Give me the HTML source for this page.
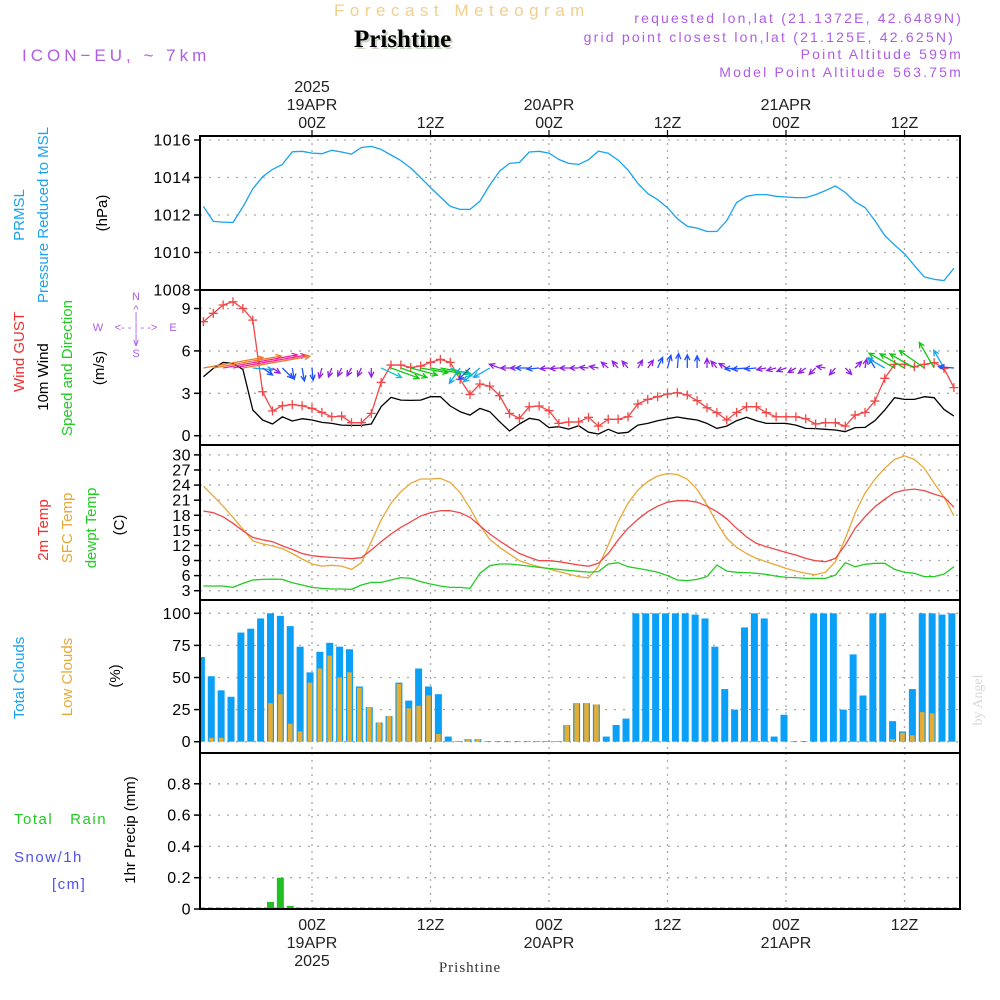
<!DOCTYPE html>
<html><head><meta charset="utf-8"><style>
html,body{margin:0;padding:0;background:#fff}
svg{display:block;font-family:"Liberation Sans",sans-serif}
</style></head><body>
<svg id="chart" width="1000" height="1000" viewBox="0 0 1000 1000" xmlns="http://www.w3.org/2000/svg">
<g id="header">
<text x="334" y="16" font-size="17" fill="#f2cf8c" letter-spacing="5.5">Forecast Meteogram</text>
<text x="356" y="49" font-size="25" font-weight="bold" font-family="Liberation Serif,serif" fill="#c9d6c4">Prishtine</text>
<text x="354" y="47" font-size="25" font-weight="bold" font-family="Liberation Serif,serif" fill="#000">Prishtine</text>
<text x="22" y="61" font-size="17" fill="#b05ce8" letter-spacing="4">ICON−EU, ~ 7km</text>
<text x="963" y="23" font-size="14" fill="#b05ce8" text-anchor="end" letter-spacing="2.2">requested lon,lat (21.1372E, 42.6489N)</text>
<text x="955" y="42" font-size="14" fill="#b05ce8" text-anchor="end" letter-spacing="2.2">grid point closest lon,lat (21.125E, 42.625N)</text>
<text x="963" y="59" font-size="14" fill="#b05ce8" text-anchor="end" letter-spacing="2.2">Point Altitude 599m</text>
<text x="963" y="77" font-size="14" fill="#b05ce8" text-anchor="end" letter-spacing="2.2">Model Point Altitude 563.75m</text>
</g>
<g id="labels" font-size="15">
<text transform="translate(24,215) rotate(-90)" text-anchor="middle" fill="#1aa3ee">PRMSL</text>
<text transform="translate(48,215) rotate(-90)" text-anchor="middle" fill="#1aa3ee">Pressure Reduced to MSL</text>
<text transform="translate(107,213) rotate(-90)" text-anchor="middle" fill="#000">(hPa)</text>
<text transform="translate(24,352) rotate(-90)" text-anchor="middle" fill="#f03030">Wind GUST</text>
<text transform="translate(48,377) rotate(-90)" text-anchor="middle" fill="#000">10m Wind</text>
<text transform="translate(72,368) rotate(-90)" text-anchor="middle" fill="#22cc22">Speed and Direction</text>
<text transform="translate(104,368) rotate(-90)" text-anchor="middle" fill="#000">(m/s)</text>
<g fill="#b05ce8" font-size="11" text-anchor="middle">
<text x="136" y="300">N</text><text x="136" y="313">^</text><text x="136" y="320">|</text>
<text x="98" y="331">W</text><text x="136" y="331">&lt;- - | - -&gt;</text><text x="173" y="331">E</text>
<text x="136" y="342">|</text><text x="136" y="346">v</text><text x="136" y="357">S</text></g>
<text transform="translate(48,530) rotate(-90)" text-anchor="middle" fill="#f03030">2m Temp</text>
<text transform="translate(72,528) rotate(-90)" text-anchor="middle" fill="#e8a838">SFC Temp</text>
<text transform="translate(96,528) rotate(-90)" text-anchor="middle" fill="#22cc22">dewpt Temp</text>
<text transform="translate(124,525) rotate(-90)" text-anchor="middle" fill="#000">(C)</text>
<text transform="translate(24,678) rotate(-90)" text-anchor="middle" fill="#1aa3ee">Total Clouds</text>
<text transform="translate(72,677) rotate(-90)" text-anchor="middle" fill="#e8a838">Low Clouds</text>
<text transform="translate(120,676) rotate(-90)" text-anchor="middle" fill="#000">(%)</text>
<text x="14" y="824" fill="#22cc22" letter-spacing="1.5">Total&#160;&#160;&#160;Rain</text>
<text x="14" y="862" fill="#5050f0" letter-spacing="1.5">Snow/1h</text>
<text x="52" y="889" fill="#5050f0" letter-spacing="1.5">[cm]</text>
<text transform="translate(135,830) rotate(-90)" text-anchor="middle" fill="#000">1hr Precip (mm)</text>
<text transform="translate(982,700) rotate(-90)" text-anchor="middle" fill="#d8d8d8" font-family="Liberation Serif,serif" font-size="14">by Angel</text>
<text x="470" y="972" text-anchor="middle" font-family="Liberation Serif,serif" font-size="15" fill="#333" letter-spacing="1">Prishtine</text>
</g>
<g id="grid"></g>
<g id="marks"></g>
<g id="frames"></g>
</svg>
<script>
const startHour = -11;
const pressure = [1012.46,1011.66,1011.62,1011.6,1012.43,1013.4,1014.04,1014.43,1014.7,1015.37,1015.4,1015.3,1015.27,1015.45,1015.36,1015.25,1015.6,1015.66,1015.5,1015.2,1014.9,1014.5,1014.0,1013.46,1012.96,1012.46,1012.3,1012.3,1012.73,1013.6,1014.34,1014.75,1014.8,1015.36,1015.4,1015.3,1014.96,1014.75,1014.7,1014.95,1015.41,1015.29,1014.93,1014.4,1013.68,1013.14,1012.82,1012.39,1011.8,1011.4,1011.3,1011.12,1011.12,1011.7,1012.66,1013.0,1013.09,1013.09,1013.0,1012.96,1012.93,1012.93,1013.09,1013.3,1013.55,1013.2,1012.7,1012.4,1011.7,1010.9,1010.4,1009.93,1009.3,1008.7,1008.57,1008.5,1009.16];
const gust = [8.07,8.66,9.25,9.48,9.0,8.18,3.11,1.75,2.12,2.2,2.12,1.93,1.65,1.34,1.39,0.92,0.92,1.58,3.77,5.0,5.0,4.83,4.93,5.19,5.4,5.19,3.99,2.92,3.66,3.51,2.83,1.58,1.23,2.05,2.1,1.77,0.87,0.97,0.97,1.3,0.68,1.16,1.16,1.34,2.24,2.57,2.76,2.95,3.04,2.88,2.48,1.98,1.63,1.11,1.65,2.05,2.05,1.63,1.34,1.34,1.34,1.2,0.83,0.92,0.92,0.68,1.46,1.65,2.45,4.06,5.05,5.05,4.88,5.05,5.17,4.76,3.4];
const wind10m = [4.17,4.76,5.19,5.12,4.69,1.82,1.11,0.83,1.34,1.04,1.2,1.11,0.94,0.87,0.75,0.73,0.73,0.83,2.05,2.71,2.52,2.5,2.52,2.76,2.76,2.1,1.7,1.46,1.93,1.7,0.99,0.33,0.83,1.23,1.11,0.57,0.64,0.47,0.71,0.25,0.12,0.45,0.17,0.24,0.75,0.87,1.06,1.2,1.32,1.2,1.11,0.87,0.52,0.68,1.06,1.3,1.06,0.87,0.87,0.87,0.75,0.52,0.5,0.45,0.4,0.28,0.57,0.59,1.06,1.82,2.69,2.57,2.57,2.76,2.69,1.86,1.39];
const windDir = [80,80,80,80,80,95,125,125,135,170,170,175,195,200,205,210,205,180,115,110,110,105,100,100,100,110,215,225,230,240,290,270,270,270,265,265,265,270,270,275,280,310,320,320,30,35,25,15,5,0,0,0,320,300,265,265,265,260,255,250,240,235,225,280,220,135,45,10,330,300,300,300,300,305,330,330,275];
const temp2m = [18.85,18.5,17.7,16.4,14.9,13.6,13.1,12.75,11.9,11.2,10.4,9.96,9.76,9.63,9.5,9.37,9.56,11.1,12.75,14.27,15.6,16.7,17.85,18.5,18.9,18.9,18.5,17.6,15.9,14.27,12.9,11.6,10.4,9.63,8.97,8.97,8.77,8.44,8.1,7.87,8.44,10.4,13.1,15.4,17.2,18.7,19.8,20.6,20.9,20.9,20.6,19.8,18.7,17.3,15.4,13.7,12.4,11.75,11.2,10.6,10.1,9.43,8.97,8.77,9.43,12.1,15.4,17.7,19.7,21.2,22.5,23.0,23.2,22.9,22.2,21.6,19.6];
const sfcTemp = [23.8,21.8,19.8,17.6,15.2,12.9,12.3,11.9,11.35,10.4,9.3,8.3,7.9,8.04,7.9,7.24,8.57,12.75,17.06,20.4,22.7,24.37,25.2,25.2,25.35,24.5,22.5,19.4,15.9,13.2,11.6,10.3,8.97,8.3,7.77,7.3,6.8,6.3,5.8,5.55,7.8,12.1,16.7,20.4,23.0,24.7,25.8,26.3,26.1,25.15,23.15,20.04,16.5,13.4,11.6,10.4,9.43,8.77,8.1,7.44,6.9,6.45,6.2,6.65,8.77,13.4,18.4,22.4,25.15,27.35,29.1,29.8,29.1,27.35,24.4,21.6,17.9];
const dewpoint = [3.93,3.93,3.93,3.66,4.46,5.12,5.25,5.3,5.25,4.6,4.13,3.66,3.46,3.33,3.33,3.26,4.13,4.66,4.66,5.12,5.6,5.45,4.8,4.33,3.93,3.66,3.66,3.46,6.45,7.97,8.3,8.3,8.1,7.9,7.64,7.44,7.24,7.04,6.85,6.7,6.8,8.3,8.57,7.77,7.44,7.1,6.65,6.0,5.12,5.0,5.25,5.8,8.1,6.9,6.65,6.6,6.45,6.25,5.9,5.65,5.6,5.45,5.45,5.45,6.1,8.57,7.77,8.24,8.44,8.44,7.24,6.65,6.45,5.8,5.8,6.3,7.77];
const totalCloud = [66,51,40,35,85,88,96,100,98,90,74,54,70,77,74,72,43,27,15,20,46,32,57,43,37,4,0.5,2,2,0.5,0.5,0.5,0.5,0.5,0.5,0.5,0.5,13,30,30,29,4,13,18,100,100,100,100,100,100,99,96,74,41,25,89,100,96,4,21,0.5,0.5,100,100,100,25,68,36,100,100,16,8,41,100,100,99,100];
const lowCloud = [0,3,3,0,0,0,0,30,37,14,8,46,57,67,50,54,42,27,15,20,45,26,28,36,6,0,0,2,2,0,0,0,0,0,0,0,0,13,30,30,29,0,0,0,0,0,0,0,0,0,0,0,0,0,0,0,0,0,0,0,0,0,0,0,0,0,0,0,0,0,2,7,5,23,22,0,0];
const precip = [0,0,0,0.003,0,0,0,0.045,0.2,0.02,0,0,0,0,0,0,0,0,0,0,0,0,0,0,0,0,0,0,0,0,0,0,0,0,0,0,0,0,0,0,0,0,0,0,0,0,0,0,0,0,0,0,0,0,0,0,0,0,0,0,0,0,0,0,0,0,0,0,0,0,0,0,0,0,0,0,0];
const pressureTicks = [1016,1014,1012,1010,1008];
const windTicks = [9,6,3,0];
const tempTicks = [30,27,24,21,18,15,12,9,6,3];
const cloudTicks = [100,75,50,25,0];
const precipTicks = [0.8,0.6,0.4,0.2,0];
const timeTicks = [0,12,24,36,48,60];
const timeLabels = ["00Z","12Z","00Z","12Z","00Z","12Z"];
const dateLabels = ["19APR","","20APR","","21APR",""];

const NS='http://www.w3.org/2000/svg';
const X0=200,X1=960;
const xT = t => 312 + t*9.875;
const yP = v => 140 + (1016-v)*18.75;
const yW = v => 435.7 - v*14.13;
const yTm = v => 590.7 - (v-3)*5.03;
const yC = v => 741.7 - v*1.284;
const yR = v => 909 - v*156.5;
const panels = [[136,290,pressureTicks,yP,v=>String(v)],[290,445,windTicks,yW,v=>String(v)],[445,600,tempTicks,yTm,v=>String(v)],[600,753,cloudTicks,yC,v=>String(v)],[753,909,precipTicks,yR,v=>v===0?'0':v.toFixed(1)]];
const grid=document.getElementById('grid'), marks=document.getElementById('marks'), frames=document.getElementById('frames');
function mk(tag,attrs,parent){const e=document.createElementNS(NS,tag);for(const k in attrs)e.setAttribute(k,attrs[k]);parent.appendChild(e);return e;}
const pNames=['pressure','wind','temp','cloud','precip'];
panels.forEach((p,i)=>{
  const [top,bot,ticks,fy,fmt]=p;
  ticks.forEach(v=>{
    const y=fy(v);
    if(y>top+2&&y<bot-2){const g=mk('line',{x1:X0,x2:X1,y1:y,y2:y,stroke:'#aaa','stroke-width':1.3,'stroke-dasharray':'2,7'},grid);
      
      }
    const tk=mk('line',{x1:X0-6,x2:X0,y1:y,y2:y,stroke:'#000','stroke-width':1.5},frames);
    
    
    const tx=mk('text',{x:X0-9,y:y+5.5,'font-size':16,'text-anchor':'end',fill:'#000','letter-spacing':0.5},frames);
    tx.textContent=fmt(v);
    
    
  });
  timeTicks.forEach(t=>{const x=xT(t);
    const g=mk('line',{x1:x,x2:x,y1:top,y2:bot,stroke:'#aaa','stroke-width':1.3,'stroke-dasharray':'2,5'},grid);
    
    });
  const r=mk('rect',{x:X0,y:top,width:X1-X0,height:bot-top,fill:'none',stroke:'#000','stroke-width':2},frames);
  
  
});
timeTicks.forEach((t,i)=>{const x=xT(t);
  mk('line',{x1:x,x2:x,y1:130,y2:136,stroke:'#000','stroke-width':1.2},frames);
  const a=mk('text',{x:x,y:128,'font-size':16,'text-anchor':'middle',fill:'#222'},frames);a.textContent=timeLabels[i];
  
  
  if(dateLabels[i]){const d=mk('text',{x:x,y:110,'font-size':16,'text-anchor':'middle',fill:'#222'},frames);d.textContent=dateLabels[i];
    
    }
  const b=mk('text',{x:x,y:930,'font-size':16,'text-anchor':'middle',fill:'#222'},frames);b.textContent=timeLabels[i];
  
  
  if(dateLabels[i]){const d=mk('text',{x:x,y:948,'font-size':16,'text-anchor':'middle',fill:'#222'},frames);d.textContent=dateLabels[i];
    
    }
});
{const y1=mk('text',{x:xT(0),y:92,'font-size':16,'text-anchor':'middle',fill:'#222'},frames);y1.textContent='2025';
 
 
 const y2=mk('text',{x:xT(0),y:966,'font-size':16,'text-anchor':'middle',fill:'#222'},frames);y2.textContent='2025';
 
 }

function line(arr,fy,color,name,w){
  const d=arr.map((v,i)=>(i?'L':'M')+xT(startHour+i).toFixed(1)+','+fy(v).toFixed(1)).join('');
  const p=mk('path',{d:d,fill:'none',stroke:color,'stroke-width':w||1.3,'stroke-linejoin':'round'},marks);
  
  
}
totalCloud.forEach((v,i)=>{const x=xT(startHour+i)-2;
  const r=mk('rect',{x:Math.max(X0,x-3.5),y:yC(v),width:x-3.5<X0?x+3.5-X0:7,height:yC(0)-yC(v),fill:'#0aa0f8'},marks);
  
  });
lowCloud.forEach((v,i)=>{if(v<=0)return;const x=xT(startHour+i)-2;
  const r=mk('rect',{x:x-2.3,y:yC(v),width:4.6,height:yC(0)-yC(v),fill:'#e8ac30'},marks);
  
  });
mk('line',{x1:X0,x2:X1,y1:yR(0)-0.5,y2:yR(0)-0.5,stroke:'#000','stroke-width':1.5,'stroke-dasharray':'5,3'},marks);
precip.forEach((v,i)=>{if(v<=0)return;const x=xT(startHour+i)-2;
  const r=mk('rect',{x:x-3.5,y:yR(v),width:7,height:Math.max(1,yR(0)-yR(v)),fill:'#22c022'},marks);
  
  });
line(pressure,yP,'#1aa3ee','pressure-line');
line(sfcTemp,yTm,'#e8a838','sfc-temp-line');
line(temp2m,yTm,'#f04848','temp-2m-line');
line(dewpoint,yTm,'#22cc22','dewpoint-line');
line(wind10m,yW,'#000','wind-10m-line');
line(gust,yW,'#f04848','gust-line');
gust.forEach((v,i)=>{const x=xT(startHour+i),y=yW(v);
  const p=mk('path',{d:`M${x-4.5},${y}H${x+4.5}M${x},${y-4.5}V${y+4.5}`,stroke:'#f04848','stroke-width':1.3},marks);
  
  });
function wcol(s){return s<1?'#9020e8':s<1.5?'#2050ff':s<2?'#10a8f0':s<2.2?'#10c8c8':s<4?'#10c810':s<4.8?'#f07828':'#f0209a';}
windDir.forEach((dir,i)=>{
  const s=wind10m[i],L=Math.max(9,s*(s>4?14.5:11)),x=xT(startHour+i),y=368,a=dir*Math.PI/180;
  const x2=x+Math.sin(a)*L,y2=y-Math.cos(a)*L,ang=Math.atan2(y2-y,x2-x),h=6;
  const d=`M${x.toFixed(1)},${y}L${x2.toFixed(1)},${y2.toFixed(1)}M${(x2-h*Math.cos(ang-0.45)).toFixed(1)},${(y2-h*Math.sin(ang-0.45)).toFixed(1)}L${x2.toFixed(1)},${y2.toFixed(1)}L${(x2-h*Math.cos(ang+0.45)).toFixed(1)},${(y2-h*Math.sin(ang+0.45)).toFixed(1)}`;
  const p=mk('path',{d:d,fill:'none',stroke:wcol(s),'stroke-width':1.3},marks);
  
  
});
</script>
</body></html>
